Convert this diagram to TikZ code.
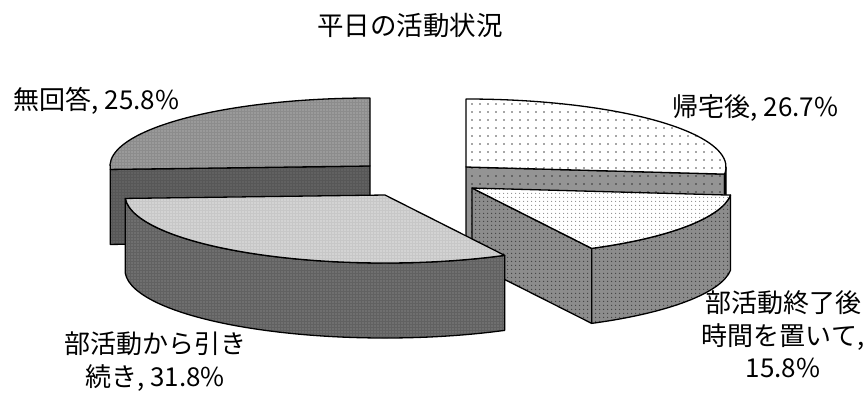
\documentclass[tikz,border=0pt]{standalone}
\usepackage{fontspec}
\setmainfont{Noto Sans CJK JP}
\usetikzlibrary{calc,patterns.meta}

\begin{document}
\begin{tikzpicture}[x=1pt, y=1pt, line width=1.3pt, line join=round,
	lbl/.style={inner sep=0pt, align=center, font=\fontsize{26}{32.5}\selectfont},
	topA/.style={draw, preaction={fill=black!45}, pattern={Dots[distance=3pt, radius=0.7pt]}, pattern color=white!80!black},
	sideA/.style={draw, preaction={fill=black!66}, pattern={Dots[distance=3pt, radius=0.7pt]}, pattern color=black!48},
	topH/.style={draw, preaction={fill=white}, pattern={Dots[distance=8pt, radius=0.8pt]}, pattern color=black!70},
	sideH/.style={draw, preaction={fill=black!42}, pattern={Dots[distance=8pt, radius=0.8pt]}, pattern color=black!80},
	rimH/.style={draw, fill=black!75},
	topF/.style={draw, preaction={fill=white}, pattern={Dots[distance=4pt, radius=0.7pt]}, pattern color=black!45},
	sideF/.style={draw, preaction={fill=black!45}, pattern={Dots[distance=4pt, radius=0.8pt]}, pattern color=black!75},
	topB/.style={draw, preaction={fill=black!22}, pattern={Dots[distance=3pt, radius=0.7pt]}, pattern color=white},
	sideB/.style={draw, preaction={fill=black!62}, pattern={Dots[distance=3pt, radius=0.7pt]}, pattern color=black!38},
	ell/.style={x radius=260, y radius=68}]
	\useasboundingbox (0,0) rectangle (866,-392);

	% slice centres
	\coordinate (cA) at (370,-166);
	\coordinate (cH) at (466,-167);
	\coordinate (cF) at (472,-188);
	\coordinate (cB) at (385,-195);

	% 無回答
	\coordinate (a1) at ($(cA)+(182.9:260 and 68)$);
	\draw[sideA] (cA) -- (a1) -- ++(0,-75) -- ($(cA)+(0,-75)$) -- cycle;
	\draw[topA] (cA) -- ++(0,68) arc[start angle=90, end angle=182.9, ell] -- cycle;

	% 帰宅後
	\coordinate (h1) at ($(cH)+(-6:260 and 68)$);
	\draw[sideH] (cH) -- (h1) -- ++(0,-75) -- ($(cH)+(0,-75)$) -- cycle;
	\draw[rimH] (h1) arc[start angle=-6, end angle=0, ell] -- ++(0,-75) arc[start angle=0, end angle=-6, ell] -- cycle;
	\draw[topH] (cH) -- ++(0,68) arc[start angle=90, end angle=-6, ell] -- cycle;

	% 部活動終了後時間を置いて
	\coordinate (f1) at ($(cF)+(-62.6:260 and 68)$);
	\draw[sideF] (cF) -- (f1) -- ++(0,-75) -- ($(cF)+(0,-75)$) -- cycle;
	\draw[sideF] (f1) arc[start angle=-62.6, end angle=-6, ell] -- ++(0,-75) arc[start angle=-6, end angle=-62.6, ell] -- cycle;
	\draw[topF] (cF) -- ++(-6:260 and 68) arc[start angle=-6, end angle=-62.6, ell] -- cycle;

	% 部活動から引き続き
	\coordinate (b1) at ($(cB)+(182.9:260 and 68)$);
	\draw[sideB] (b1) arc[start angle=182.9, end angle=297.4, ell] -- ++(0,-75) arc[start angle=297.4, end angle=182.9, ell] -- cycle;
	\draw[topB] (cB) -- (b1) arc[start angle=182.9, end angle=297.4, ell] -- cycle;

	% labels
	\node[lbl, font=\fontsize{26.5}{32}\selectfont] (title) at (410,-25) {平日の活動状況};
	\node[lbl, anchor=west] (labA) at (13,-101) {無回答, 25.8\%};
	\node[lbl, anchor=west] (labH) at (672,-108) {帰宅後, 26.7\%};
	\node[lbl] (labF) at (783,-334.5) {部活動終了後\\時間を置いて,\\15.8\%};
	\node[lbl] (labB) at (155,-361.5) {部活動から引き\\続き, 31.8\%};
\end{tikzpicture}
\end{document}
